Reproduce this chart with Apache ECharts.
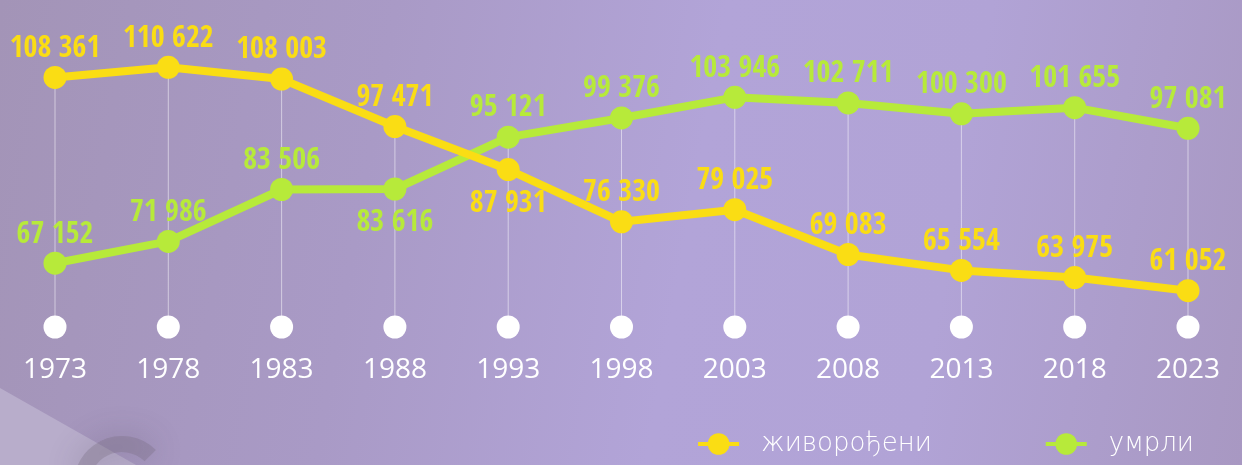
<!DOCTYPE html>
<html>
<head>
<meta charset="utf-8">
<script src="https://cdn.jsdelivr.net/npm/echarts@6/dist/echarts.min.js"></script>
<style>
  html, body { margin: 0; padding: 0; }
  body {
    width: 1242px; height: 465px; overflow: hidden;
    background: linear-gradient(100deg, #a394b7 0%, #a99ac6 30%, #b2a4d8 55%, #b1a3d6 75%, #a898c2 100%);
  }
  #chart { width: 1242px; height: 465px; }
</style>
</head>
<body>
<div id="chart"></div>
<script>
// година пописа / процене
const years = ['1973', '1978', '1983', '1988', '1993', '1998', '2003', '2008', '2013', '2018', '2023']
// живорођени
const births = [108361, 110622, 108003, 97471, 87931, 76330, 79025, 69083, 65554, 63975, 61052]
// умрли
const deaths = [67152, 71986, 83506, 83616, 95121, 99376, 103946, 102711, 100300, 101655, 97081]

const Y_MIN = 53000
const Y_MAX = 120000
const YELLOW = '#fadd14'
const GREEN = '#b7ea3a'

// бројеви са размаком као сепаратором хиљада
const fmt = v => String(v).replace(/\B(?=(\d{3})+(?!\d))/g, ' ')

const labelFont = {
  fontFamily: "'Noto Sans Condensed', 'Open Sans Condensed', 'Noto Sans', sans-serif",
  fontWeight: 'bold',
  fontSize: 30,
}

// тачке код којих натпис иде испод
const birthsBelow = [4]
const deathsBelow = [3]

function lineData(values, below) {
  return values.map((v, i) => below.includes(i)
    ? { value: v, label: { position: 'bottom', distance: 8 } }
    : v)
}

const chart = echarts.init(document.getElementById('chart'))

chart.setOption({
  backgroundColor: 'transparent',
  animation: false,
  graphic: [
    { type: 'polygon', silent: true, z: -10,
      shape: { points: [[0, 388], [136, 465], [0, 465]] },
      style: { fill: '#b8adcb' } },
    { type: 'arc', silent: true, z: -9,
      shape: { cx: 122, cy: 484, r: 40, startAngle: Math.PI * 1.05, endAngle: Math.PI * 1.75 },
      style: { stroke: 'rgba(110,100,120,0.28)', lineWidth: 16, fill: null, shadowBlur: 30, shadowColor: 'rgba(80,70,90,0.9)' } },
  ],
  grid: { left: 55, right: 54, top: 25, bottom: 138 },
  legend: {
    right: 43, bottom: 3,
    itemWidth: 41, itemHeight: 27, itemGap: 112,
    lineStyle: { width: 4 },
    textStyle: { color: '#fff', fontFamily: "'DejaVu Sans', sans-serif", fontWeight: 200, fontSize: 26, padding: [0, 0, 0, 17] },
    data: ['живорођени', 'умрли'],
  },
  xAxis: {
    type: 'category',
    data: years,
    boundaryGap: false,
    axisLine: { show: false },
    axisTick: { show: false },
    axisLabel: { color: '#fff', fontFamily: "'Open Sans', sans-serif", fontSize: 28, margin: 29 },
  },
  yAxis: {
    type: 'value',
    min: Y_MIN,
    max: Y_MAX,
    show: false,
  },
  series: [
    {
      // вертикалне линије од највише тачке до осе
      name: 'guide',
      type: 'bar',
      barWidth: 1,
      silent: true,
      z: 1,
      itemStyle: { color: 'rgba(255,255,255,0.5)' },
      data: births.map((b, i) => Math.max(b, deaths[i])),
    },
    {
      name: 'axisDots',
      type: 'scatter',
      symbolSize: 23,
      clip: false,
      silent: true,
      z: 2,
      itemStyle: { color: '#fff', opacity: 1 },
      data: years.map(() => Y_MIN),
    },
    {
      name: 'умрли',
      type: 'line',
      z: 3,
      symbol: 'circle',
      symbolSize: 23,
      lineStyle: { color: GREEN, width: 8 },
      itemStyle: { color: GREEN },
      label: { show: true, position: 'top', distance: 2, color: GREEN, ...labelFont, formatter: p => fmt(p.value) },
      data: lineData(deaths, deathsBelow),
    },
    {
      name: 'живорођени',
      type: 'line',
      z: 4,
      symbol: 'circle',
      symbolSize: 23,
      lineStyle: { color: YELLOW, width: 8 },
      itemStyle: { color: YELLOW },
      label: { show: true, position: 'top', distance: 2, color: YELLOW, ...labelFont, formatter: p => fmt(p.value) },
      data: lineData(births, birthsBelow),
    },
  ],
})

window.addEventListener('resize', () => chart.resize())
</script>
</body>
</html>
